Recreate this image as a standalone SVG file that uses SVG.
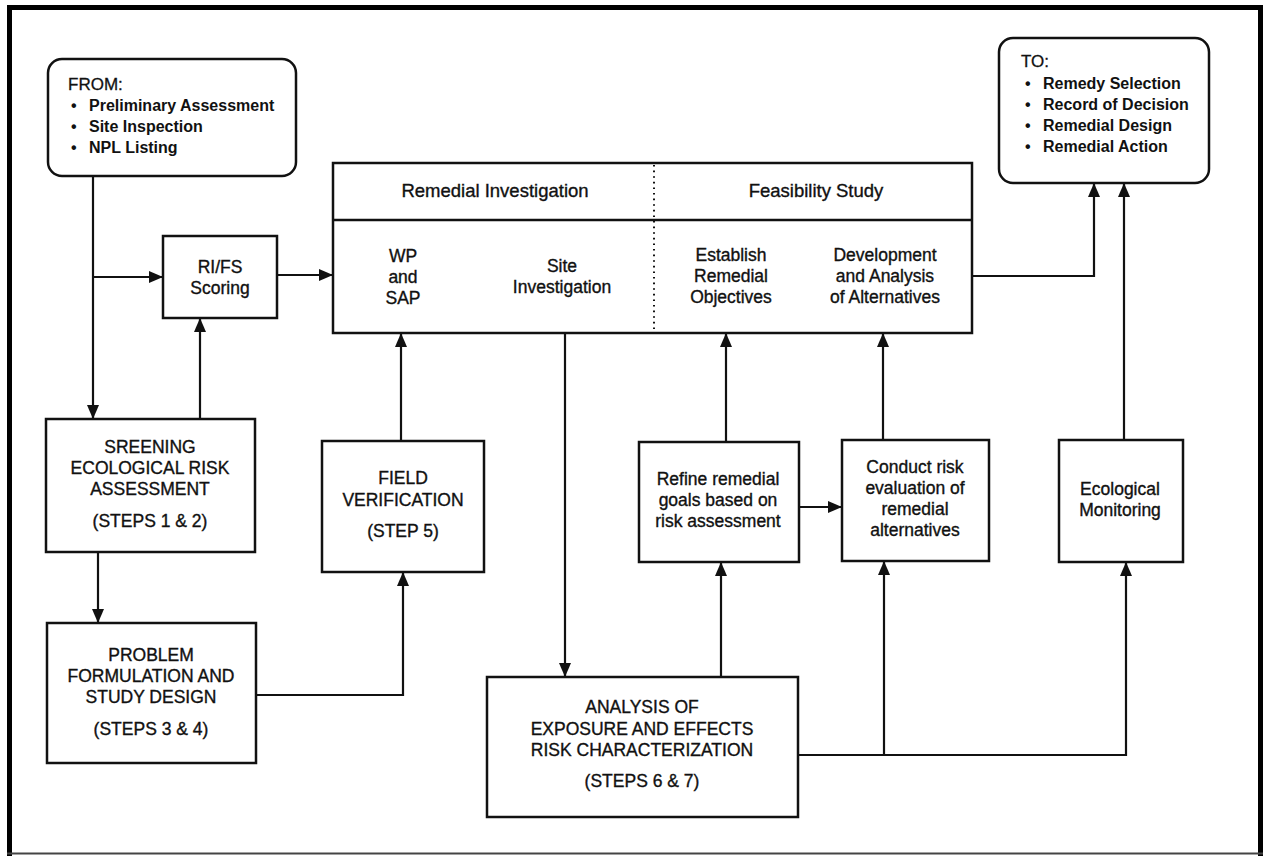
<svg xmlns="http://www.w3.org/2000/svg" width="1263" height="856" viewBox="0 0 1263 856">
<style>
  .box { fill: #fff; stroke: #111; stroke-width: 2.5; }
  .ln { fill: none; stroke: #111; stroke-width: 2.2; }
  .t { font-family: "Liberation Sans", Arial, Helvetica, sans-serif; font-size: 17.5px; fill: #111; stroke: #111; stroke-width: 0.35; text-anchor: middle; }
  .h { font-family: "Liberation Sans", Arial, Helvetica, sans-serif; font-size: 18.5px; fill: #111; stroke: #111; stroke-width: 0.35; text-anchor: middle; }
  .l { font-family: "Liberation Sans", Arial, Helvetica, sans-serif; font-size: 17px; fill: #111; stroke: #111; stroke-width: 0.3; }
  .b { font-family: "Liberation Sans", Arial, Helvetica, sans-serif; font-size: 16px; font-weight: bold; fill: #111; }
</style>
<defs>
  <marker id="arr" markerUnits="userSpaceOnUse" markerWidth="14" markerHeight="12" refX="14" refY="6" orient="auto">
    <path d="M0,0 L14,6 L0,12 z" fill="#111"/>
  </marker>
</defs>
<rect x="0" y="0" width="1263" height="856" fill="#fff"/>
<g id="frame">
  <line x1="9.5" y1="5" x2="9.5" y2="856" stroke="#000" stroke-width="5"/>
  <line x1="7" y1="7.5" x2="1263" y2="7.5" stroke="#000" stroke-width="5"/>
  <line x1="1260.5" y1="5" x2="1260.5" y2="856" stroke="#000" stroke-width="5"/>
  <line x1="7" y1="853.5" x2="1263" y2="853.5" stroke="#444" stroke-width="2"/>
</g>
<g id="connectors">
  <path class="ln" d="M93,176 V419" marker-end="url(#arr)"/>
  <path class="ln" d="M93,277 H163" marker-end="url(#arr)"/>
  <path class="ln" d="M200,419 V318" marker-end="url(#arr)"/>
  <path class="ln" d="M277,275 H333" marker-end="url(#arr)"/>
  <path class="ln" d="M98,552 V623" marker-end="url(#arr)"/>
  <path class="ln" d="M256,695 H403 V572" marker-end="url(#arr)"/>
  <path class="ln" d="M401,441 V333" marker-end="url(#arr)"/>
  <path class="ln" d="M565,333 V677" marker-end="url(#arr)"/>
  <path class="ln" d="M721,677 V562" marker-end="url(#arr)"/>
  <path class="ln" d="M726,442 V333" marker-end="url(#arr)"/>
  <path class="ln" d="M799,507 H842" marker-end="url(#arr)"/>
  <path class="ln" d="M883,440 V333" marker-end="url(#arr)"/>
  <path class="ln" d="M798,755 H1126 V562" marker-end="url(#arr)"/>
  <path class="ln" d="M884,755 V561" marker-end="url(#arr)"/>
  <path class="ln" d="M1124,440 V183" marker-end="url(#arr)"/>
  <path class="ln" d="M972,276 H1094 V183" marker-end="url(#arr)"/>
</g>
<g id="from">
  <rect class="box" x="48" y="59" width="248" height="117" rx="14"/>
  <text class="l" x="68" y="90">FROM:</text>
  <text class="b" x="71" y="111">•</text><text class="b" x="89" y="111">Preliminary Assessment</text>
  <text class="b" x="71" y="132">•</text><text class="b" x="89" y="132">Site Inspection</text>
  <text class="b" x="71" y="153">•</text><text class="b" x="89" y="153">NPL Listing</text>
</g>
<g id="to">
  <rect class="box" x="999" y="38" width="210" height="145" rx="14"/>
  <text class="l" x="1021" y="67">TO:</text>
  <text class="b" x="1025" y="89">•</text><text class="b" x="1043" y="89">Remedy Selection</text>
  <text class="b" x="1025" y="110">•</text><text class="b" x="1043" y="110">Record of Decision</text>
  <text class="b" x="1025" y="131">•</text><text class="b" x="1043" y="131">Remedial Design</text>
  <text class="b" x="1025" y="152">•</text><text class="b" x="1043" y="152">Remedial Action</text>
</g>
<g id="rifs-scoring">
  <rect class="box" x="163" y="236" width="114" height="82"/>
  <text class="t" x="220" y="273">RI/FS</text>
  <text class="t" x="220" y="294">Scoring</text>
</g>
<g id="rifs">
  <rect class="box" x="333" y="163" width="639" height="170"/>
  <line x1="333" y1="220" x2="972" y2="220" stroke="#111" stroke-width="2.5"/>
  <line x1="654" y1="165" x2="654" y2="331" stroke="#111" stroke-width="2" stroke-dasharray="1.6,4"/>
  <text class="h" x="495" y="197">Remedial Investigation</text>
  <text class="h" x="816" y="197">Feasibility Study</text>
  <text class="t" x="403" y="262">WP</text>
  <text class="t" x="403" y="283">and</text>
  <text class="t" x="403" y="304">SAP</text>
  <text class="t" x="562" y="272">Site</text>
  <text class="t" x="562" y="293">Investigation</text>
  <text class="t" x="731" y="261">Establish</text>
  <text class="t" x="731" y="282">Remedial</text>
  <text class="t" x="731" y="303">Objectives</text>
  <text class="t" x="885" y="261">Development</text>
  <text class="t" x="885" y="282">and Analysis</text>
  <text class="t" x="885" y="303">of Alternatives</text>
</g>
<g id="screening">
  <rect class="box" x="46" y="419" width="209" height="133"/>
  <text class="t" x="150" y="453">SREENING</text>
  <text class="t" x="150" y="474">ECOLOGICAL RISK</text>
  <text class="t" x="150" y="495">ASSESSMENT</text>
  <text class="t" x="150" y="527">(STEPS 1 &amp; 2)</text>
</g>
<g id="problem">
  <rect class="box" x="47" y="623" width="209" height="140"/>
  <text class="t" x="151" y="661">PROBLEM</text>
  <text class="t" x="151" y="682">FORMULATION AND</text>
  <text class="t" x="151" y="703">STUDY DESIGN</text>
  <text class="t" x="151" y="735">(STEPS 3 &amp; 4)</text>
</g>
<g id="field">
  <rect class="box" x="322" y="441" width="162" height="131"/>
  <text class="t" x="403" y="484">FIELD</text>
  <text class="t" x="403" y="506">VERIFICATION</text>
  <text class="t" x="403" y="537">(STEP 5)</text>
</g>
<g id="analysis">
  <rect class="box" x="487" y="677" width="311" height="140"/>
  <text class="t" x="642" y="713">ANALYSIS OF</text>
  <text class="t" x="642" y="735">EXPOSURE AND EFFECTS</text>
  <text class="t" x="642" y="756">RISK CHARACTERIZATION</text>
  <text class="t" x="642" y="787">(STEPS 6 &amp; 7)</text>
</g>
<g id="refine">
  <rect class="box" x="639" y="442" width="160" height="120"/>
  <text class="t" x="718" y="485">Refine remedial</text>
  <text class="t" x="718" y="506">goals based on</text>
  <text class="t" x="718" y="527">risk assessment</text>
</g>
<g id="conduct">
  <rect class="box" x="842" y="440" width="147" height="121"/>
  <text class="t" x="915" y="473">Conduct risk</text>
  <text class="t" x="915" y="494">evaluation of</text>
  <text class="t" x="915" y="515">remedial</text>
  <text class="t" x="915" y="536">alternatives</text>
</g>
<g id="monitoring">
  <rect class="box" x="1059" y="440" width="124" height="122"/>
  <text class="t" x="1120" y="495">Ecological</text>
  <text class="t" x="1120" y="516">Monitoring</text>
</g>
</svg>
